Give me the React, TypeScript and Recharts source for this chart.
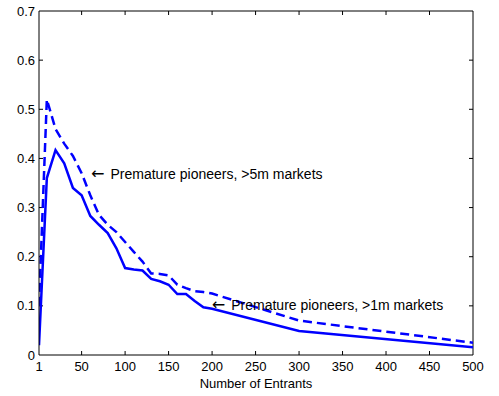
import React from "react";
import { LineChart, Line, XAxis, YAxis, ReferenceDot, CartesianGrid } from "recharts";

// number of entrants (x)
const entrants = [1, 10, 20, 30, 40, 50, 60, 70, 80, 90, 100, 110, 120, 130, 140, 150, 160, 170, 180, 190, 200, 300, 500];
// >1m markets (solid)
const over1m = [0.02, 0.36, 0.417, 0.39, 0.34, 0.325, 0.283, 0.265, 0.248, 0.217, 0.177, 0.174, 0.172, 0.155, 0.15, 0.143, 0.124, 0.124, 0.11, 0.097, 0.094, 0.049, 0.016];
// >5m markets (dashed)
const over5m = [0.1, 0.52, 0.46, 0.43, 0.405, 0.37, 0.325, 0.285, 0.265, 0.25, 0.23, 0.21, 0.19, 0.166, 0.165, 0.162, 0.143, 0.136, 0.13, 0.128, 0.125, 0.07, 0.025];

const xTicks = [1, 50, 100, 150, 200, 250, 300, 350, 400, 450, 500];
const yTicks = [0, 0.1, 0.2, 0.3, 0.4, 0.5, 0.6, 0.7];

const data = entrants.map((x, i) => ({ x, solid: over1m[i], dashed: over5m[i] }));

const FONT = "'Liberation Sans', Arial, sans-serif";
const TICK = 4;

const BottomTick = ({ x, y, payload }: any) => (
  <g>
    <text x={x} y={y + 16} textAnchor="middle" fontSize={13} fontFamily={FONT} fill="#000">
      {payload.value}
    </text>
  </g>
);

const LeftTick = ({ x, y, payload }: any) => (
  <g>
    <text x={x - 4} y={y + 4.5} textAnchor="end" fontSize={13} fontFamily={FONT} fill="#000">
      {payload.value}
    </text>
  </g>
);

// grid rows: inward ticks on both sides, full line on the top edge (closes the box)
const HRow = (p: any) => {
  const top = p.y1 <= p.y + 0.5;
  const bottom = p.y1 >= p.y + p.height - 0.5;
  return (
    <g key={p.key}>
      {top ? (
        <line x1={p.x1} y1={p.y1} x2={p.x2} y2={p.y1} stroke="#000" />
      ) : (
        !bottom && (
          <>
            <line x1={p.x1} y1={p.y1} x2={p.x1 + TICK} y2={p.y1} stroke="#000" />
            <line x1={p.x2} y1={p.y1} x2={p.x2 - TICK} y2={p.y1} stroke="#000" />
          </>
        )
      )}
    </g>
  );
};

// grid columns: inward ticks top and bottom, full line on the right edge
const VCol = (p: any) => {
  const right = p.x1 >= p.x + p.width - 0.5;
  const left = p.x1 <= p.x + 0.5;
  const y1 = Math.min(p.y1, p.y2);
  const y2 = Math.max(p.y1, p.y2);
  return (
    <g key={p.key}>
      {right ? (
        <line x1={p.x1} y1={y1} x2={p.x1} y2={y2} stroke="#000" />
      ) : (
        !left && (
          <>
            <line x1={p.x1} y1={y1} x2={p.x1} y2={y1 + TICK} stroke="#000" />
            <line x1={p.x1} y1={y2} x2={p.x1} y2={y2 - TICK} stroke="#000" />
          </>
        )
      )}
    </g>
  );
};

const Note = ({ viewBox, value }: any) => (
  <g>
    <text x={viewBox.x} y={viewBox.y + 5} fontSize={16} fontFamily="'DejaVu Sans', sans-serif" fill="#000">
      ←
    </text>
    <text x={viewBox.x + 19.5} y={viewBox.y + 5} fontSize={14} fontFamily={FONT} fill="#000">
      {value}
    </text>
  </g>
);

export default function App() {
  return (
    <div style={{ position: "absolute", left: 0, top: 0, background: "#fff" }}>
      <LineChart width={499} height={396} data={data} margin={{ top: 11, right: 26, bottom: 0, left: 0 }}>
        <CartesianGrid horizontal={HRow} vertical={VCol} fill="none" />
        <XAxis
          dataKey="x"
          type="number"
          domain={[1, 500]}
          ticks={xTicks}
          allowDataOverflow
          height={41}
          tickSize={0}
          tickMargin={0}
          tickLine={false}
          tick={<BottomTick />}
          axisLine={{ stroke: "#000" }}
          interval={0}
          label={{ value: "Number of Entrants", position: "insideBottom", offset: 8, fontSize: 13, fontFamily: FONT, fill: "#000" }}
        />
        <YAxis
          type="number"
          domain={[0, 0.7]}
          ticks={yTicks}
          allowDataOverflow
          width={39}
          tickSize={0}
          tickMargin={0}
          tickLine={false}
          tick={<LeftTick />}
          axisLine={{ stroke: "#000" }}
          interval={0}
        />
        <Line type="linear" dataKey="solid" stroke="#0000ff" strokeWidth={2.5} dot={false} isAnimationActive={false} />
        <Line
          type="linear"
          dataKey="dashed"
          stroke="#0000ff"
          strokeWidth={2.5}
          strokeDasharray="9 5"
          dot={false}
          isAnimationActive={false}
        />
        <ReferenceDot x={60.8} y={0.368} r={0} label={<Note value="Premature pioneers, >5m markets" />} />
        <ReferenceDot x={199.6} y={0.1017} r={0} label={<Note value="Premature pioneers, >1m markets" />} />
      </LineChart>
    </div>
  );
}
